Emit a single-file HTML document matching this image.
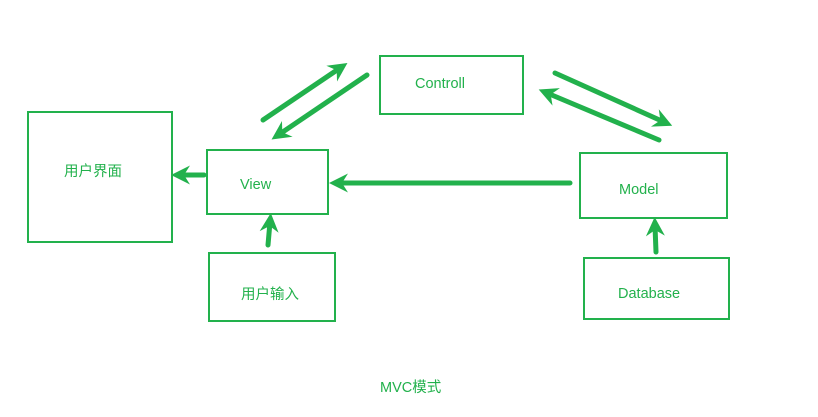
<!DOCTYPE html>
<html><head><meta charset="utf-8"><style>
html,body{margin:0;padding:0;background:#fff;}
svg{display:block}
text{font-family:"Liberation Sans","Noto Sans CJK SC",sans-serif;font-size:14.5px;fill:#22b14c}
</style></head><body>
<svg width="818" height="417" viewBox="0 0 818 417" xmlns="http://www.w3.org/2000/svg">
<defs>
<marker id="a" markerUnits="userSpaceOnUse" markerWidth="22" markerHeight="22" refX="10" refY="11" orient="auto" overflow="visible">
<path d="M19,11 L0,1.5 L6,11 L0,20.5 Z" fill="#22b14c"/>
</marker>
</defs>
<g fill="none" stroke="#22b14c" stroke-width="2">
<rect x="380" y="56" width="143" height="58"/>
<rect x="28" y="112" width="144" height="130"/>
<rect x="207" y="150" width="121" height="64"/>
<rect x="580" y="153" width="147" height="65"/>
<rect x="209" y="253" width="126" height="68"/>
<rect x="584" y="258" width="145" height="61"/>
</g>
<g stroke="#22b14c" stroke-width="5" stroke-linecap="round" fill="none" marker-end="url(#a)">
<path d="M263,120 L340,68"/>
<path d="M367,75 L279,134.5"/>
<path d="M555,73 L664,122"/>
<path d="M659,140 L547,93"/>
<path d="M570,183 L338,183"/>
<path d="M204,175 L180,175"/>
<path d="M268,245 L270,222"/>
<path d="M656,252 L655,226"/>
</g>
<text x="415" y="88">Controll</text>
<text x="64" y="176">用户界面</text>
<text x="240" y="189">View</text>
<text x="619" y="194">Model</text>
<text x="241" y="299">用户输入</text>
<text x="618" y="298">Database</text>
<text x="380" y="392">MVC模式</text>
</svg>
</body></html>
